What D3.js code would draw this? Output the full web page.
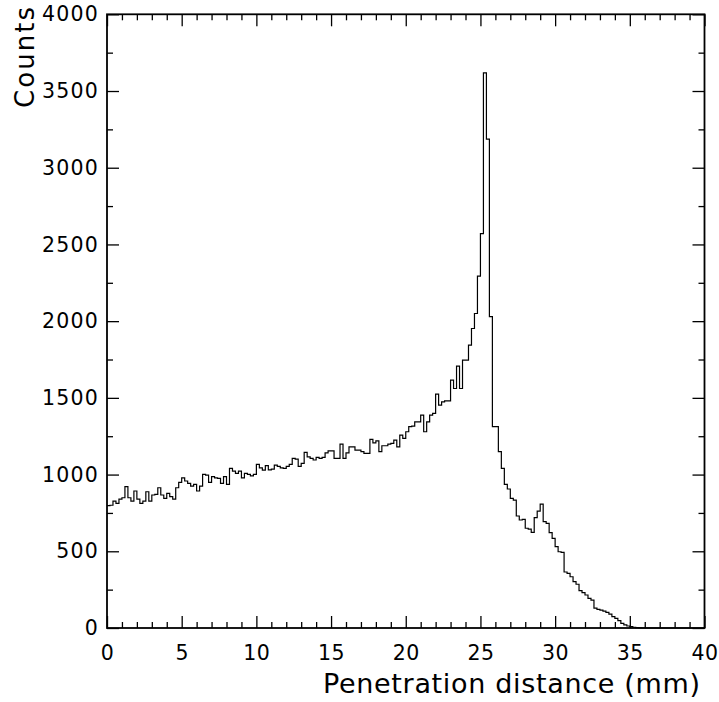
<!DOCTYPE html>
<html>
<head>
<meta charset="utf-8">
<script src="https://cdn.jsdelivr.net/npm/d3@7"></script>
<style>
  html, body { margin: 0; padding: 0; background: #fff; }
  svg { display: block; }
  .tick text { font-family: "DejaVu Sans", sans-serif; }
</style>
</head>
<body>
<svg id="chart" width="719" height="702"></svg>
<script>
// ---- Data ----
const xDomain = [0, 40];          // mm
const yDomain = [0, 4000];        // counts
const binWidth = 0.2;             // mm per bin (200 bins)
// counts per 0.2 mm bin, starting at 0 mm
const countsA = [ // 0 - 13.8 mm
  797, 800, 827, 812, 840, 849, 921, 849, 827, 893,
  840, 812, 827, 888, 827, 867, 871, 914, 867, 845,
  877, 856, 840, 914, 949, 979, 958, 942, 925, 936,
  893, 925, 1001, 997, 949, 986, 979, 975, 942, 986,
  936, 1040, 1023, 1008, 1023, 979, 1008, 1001, 992, 1001,
  1066, 1044, 1029, 1058, 1031, 1036, 1062, 1053, 1044, 1040,
  1053, 1066, 1105, 1101, 1053, 1073, 1145, 1116, 1105, 1095
];
const countsB = [ // 14 - 25.8 mm
  1112, 1105, 1112, 1142, 1155, 1155, 1105, 1105, 1199, 1105,
  1142, 1181, 1181, 1160, 1160, 1149, 1138, 1138, 1229, 1207,
  1220, 1149, 1188, 1188, 1199, 1203, 1225, 1181, 1257, 1236,
  1279, 1312, 1316, 1344, 1344, 1388, 1279, 1344, 1388, 1399,
  1525, 1453, 1474, 1481, 1481, 1616, 1561, 1707, 1561, 1746,
  1746, 1844, 1952, 2050, 2293, 2571, 3618, 3186, 2030, 1312
];
const countsC = [ // 26 - 39.8 mm
  1312, 1149, 1040, 936, 906, 845, 834, 730, 704, 708,
  650, 644, 623, 719, 762, 808, 693, 682, 621, 584,
  530, 497, 493, 365, 356, 334, 302, 285, 243, 230,
  215, 193, 182, 130, 121, 117, 110, 102, 90, 74,
  63, 48, 30, 20, 13, 9, 5, 3, 1, 0,
  0, 0, 0, 0, 0, 0, 0, 0, 0, 0,
  0, 0, 0, 0, 0, 0, 0, 0, 0, 0
];
const counts = countsA.concat(countsB, countsC);
const xMajorTicks = [0, 5, 10, 15, 20, 25, 30, 35, 40];
const yMajorTicks = [0, 500, 1000, 1500, 2000, 2500, 3000, 3500, 4000];
const xMinorStep = 1;
const yMinorStep = 250;
const xTitle = "Penetration distance (mm)";
const yTitle = "Counts";

// ---- Layout ----
const L = 107, R = 704.5, T = 14.3, B = 628;
const svg = d3.select("#chart");
const x = d3.scaleLinear().domain(xDomain).range([L, R]);
const y = d3.scaleLinear().domain(yDomain).range([B, T]);

const xMinor = d3.range(xDomain[0], xDomain[1] + 0.001, xMinorStep).filter(v => !xMajorTicks.includes(v));
const yMinor = d3.range(yDomain[0], yDomain[1] + 0.001, yMinorStep).filter(v => !yMajorTicks.includes(v));

function styleAxis(g) {
  g.select(".domain").remove();
  g.selectAll(".tick line").attr("stroke", "#000").attr("stroke-width", 1.3);
}

// bottom axis with labels
const gB = svg.append("g").attr("transform", `translate(0,${B})`)
  .call(d3.axisBottom(x).tickValues(xMajorTicks).tickSize(-12).tickPadding(17.5)
    .tickFormat(d3.format("d")));
styleAxis(gB);
gB.selectAll(".tick text").attr("font-size", 20.5).attr("fill", "#000")
  .attr("letter-spacing", 0.5);
svg.append("g").attr("transform", `translate(0,${B})`)
  .call(d3.axisBottom(x).tickValues(xMinor).tickSize(-6).tickFormat(""))
  .call(styleAxis);

// top axis (ticks only)
svg.append("g").attr("transform", `translate(0,${T})`)
  .call(d3.axisTop(x).tickValues(xMajorTicks).tickSize(-12).tickFormat(""))
  .call(styleAxis);
svg.append("g").attr("transform", `translate(0,${T})`)
  .call(d3.axisTop(x).tickValues(xMinor).tickSize(-6).tickFormat(""))
  .call(styleAxis);

// left axis with labels
const gL = svg.append("g").attr("transform", `translate(${L},0)`)
  .call(d3.axisLeft(y).tickValues(yMajorTicks).tickSize(-12).tickPadding(8)
    .tickFormat(d3.format("d")));
styleAxis(gL);
gL.selectAll(".tick text").attr("font-size", 20.5).attr("fill", "#000")
  .attr("letter-spacing", 1.2);
svg.append("g").attr("transform", `translate(${L},0)`)
  .call(d3.axisLeft(y).tickValues(yMinor).tickSize(-6).tickFormat(""))
  .call(styleAxis);

// right axis (ticks only)
svg.append("g").attr("transform", `translate(${R},0)`)
  .call(d3.axisRight(y).tickValues(yMajorTicks).tickSize(-12).tickFormat(""))
  .call(styleAxis);
svg.append("g").attr("transform", `translate(${R},0)`)
  .call(d3.axisRight(y).tickValues(yMinor).tickSize(-6).tickFormat(""))
  .call(styleAxis);

// histogram (step line)
const pts = counts.map((c, i) => [xDomain[0] + i * binWidth, c]);
pts.push([xDomain[0] + counts.length * binWidth, counts[counts.length - 1]]);
const line = d3.line().x(d => x(d[0])).y(d => y(d[1])).curve(d3.curveStepAfter);
svg.append("path").datum(pts)
  .attr("d", line)
  .attr("fill", "none")
  .attr("stroke", "#000")
  .attr("stroke-width", 1.2);

// frame
svg.append("rect")
  .attr("x", L).attr("y", T).attr("width", R - L).attr("height", B - T)
  .attr("fill", "none").attr("stroke", "#000").attr("stroke-width", 1.8);

// titles
svg.append("text")
  .attr("x", 700).attr("y", 693)
  .attr("text-anchor", "end")
  .attr("font-family", "DejaVu Sans, sans-serif")
  .attr("font-size", 27)
  .attr("textLength", 377)
  .attr("lengthAdjust", "spacing")
  .text(xTitle);

svg.append("text")
  .attr("transform", "translate(34,7) rotate(-90)")
  .attr("text-anchor", "end")
  .attr("font-family", "DejaVu Sans, sans-serif")
  .attr("font-size", 26)
  .attr("textLength", 101)
  .attr("lengthAdjust", "spacing")
  .text(yTitle);
</script>
</body>
</html>
